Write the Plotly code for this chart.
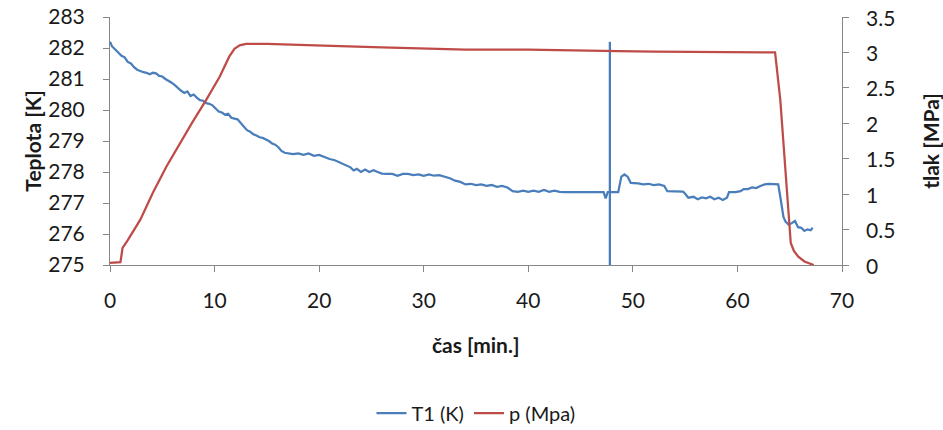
import plotly.graph_objects as go

# --- data -------------------------------------------------------------
t1_time = [0, 0.2, 0.5, 0.8, 1.1, 1.4, 1.7, 2.0, 2.3, 2.6, 2.9, 3.2, 3.5, 3.8, 4.1, 4.4, 4.7,
           5.0, 5.3, 5.6, 5.9, 6.2, 6.5, 6.8, 7.1, 7.4, 7.7, 8.0, 8.3, 8.6, 8.9, 9.2, 9.5,
           9.8, 10.1, 10.4, 10.7, 11.0, 11.3, 11.6, 11.9, 12.2, 12.5, 12.8, 13.1, 13.4, 13.7,
           14.0, 14.3, 14.6, 14.9, 15.2, 15.5, 15.8, 16.1, 16.4, 16.7, 17.0, 17.5, 18.0, 18.5,
           19.0, 19.5, 20.0, 20.5, 21.0, 21.5, 22.0, 22.5, 23.0, 23.3, 23.6, 24.0, 24.4, 24.8,
           25.2, 25.6, 26.0, 26.5, 27.0, 27.5, 28.0, 28.5, 29.0, 29.5, 30.0, 30.5, 31.0, 31.5,
           32.0, 32.5, 33.0, 33.5, 34.0, 34.5, 35.0, 35.5, 36.0, 36.5, 37.0, 37.5, 38.0, 38.5,
           39.0, 39.5, 40.0, 40.5, 41.0, 41.5, 42.0, 42.5, 43.0, 43.5, 47.2, 47.4, 47.6, 48.6,
           48.9, 49.2, 49.5, 49.8, 50.5, 51.0, 51.5, 52.0, 52.5, 53.0, 53.3, 54.0, 54.8, 55.0,
           55.3, 55.8, 56.2, 56.6, 57.0, 57.4, 57.8, 58.2, 58.6, 59.0, 59.2, 59.8, 60.3, 60.6,
           61.0, 61.4, 61.8, 62.2, 62.6, 63.0, 63.5, 63.9, 64.1, 64.4, 64.6, 64.9, 65.2, 65.5,
           65.8, 66.1, 66.4, 66.7, 67.0, 67.2]
t1_values = [282.2, 282.05, 281.95, 281.85, 281.75, 281.7, 281.55, 281.5, 281.38, 281.3, 281.25,
             281.22, 281.2, 281.15, 281.2, 281.18, 281.1, 281.08, 281.0, 280.95, 280.88, 280.8,
             280.7, 280.62, 280.55, 280.6, 280.45, 280.5, 280.4, 280.32, 280.3, 280.22, 280.2,
             280.15, 280.05, 279.95, 279.92, 279.85, 279.88, 279.75, 279.72, 279.7, 279.58,
             279.45, 279.35, 279.3, 279.22, 279.18, 279.12, 279.1, 279.05, 279.0, 278.92,
             278.88, 278.8, 278.68, 278.62, 278.6, 278.58, 278.6, 278.55, 278.6, 278.52,
             278.55, 278.48, 278.42, 278.38, 278.3, 278.22, 278.15, 278.05, 278.1, 278.0,
             278.08, 278.0, 278.06, 278.0, 277.95, 277.94, 277.94, 277.88, 277.94, 277.94,
             277.9, 277.92, 277.88, 277.92, 277.88, 277.9, 277.86, 277.8, 277.72, 277.68,
             277.6, 277.62, 277.58, 277.6, 277.55, 277.58, 277.52, 277.55, 277.5, 277.38,
             277.36, 277.4, 277.36, 277.4, 277.36, 277.42, 277.36, 277.4, 277.36, 277.35,
             277.35, 277.15, 277.35, 277.35, 277.85, 277.92, 277.85, 277.65, 277.63, 277.6,
             277.62, 277.58, 277.6, 277.55, 277.38, 277.37, 277.37, 277.3, 277.17, 277.2,
             277.12, 277.18, 277.15, 277.2, 277.12, 277.17, 277.1, 277.17, 277.35, 277.35,
             277.38, 277.45, 277.45, 277.5, 277.48, 277.55, 277.6, 277.62, 277.62, 277.6,
             277.2, 276.55, 276.4, 276.3, 276.35, 276.42, 276.22, 276.2, 276.1, 276.15,
             276.12, 276.2]

p_time = [0, 1.0, 1.2, 1.7, 2.9, 4.1, 5.4, 6.7, 7.9, 9.2, 10.5, 11.4, 11.9, 12.4, 13, 15, 18,
          22, 26, 30, 34, 40, 46.7, 48.6, 52, 56, 60, 63.6, 64.1, 64.7, 65.1, 65.4, 65.8,
          66.4, 67.0, 67.3]
p_values = [0.03, 0.04, 0.24, 0.35, 0.64, 1.02, 1.39, 1.72, 2.02, 2.33, 2.66, 2.94, 3.05,
            3.1, 3.12, 3.12, 3.11, 3.09, 3.07, 3.05, 3.04, 3.04, 3.03, 3.02, 3.01, 3.01,
            3.0, 3.0, 2.33, 1.16, 0.31, 0.2, 0.12, 0.05, 0.01, 0.0]

marker_time = [47.8, 47.8]
marker_temp = [275.0, 282.2]

names = ["T1 (K)", "p (Mpa)"]
x_ticks = [0, 10, 20, 30, 40, 50, 60, 70]
p_ticks = [0, 0.5, 1, 1.5, 2, 2.5, 3, 3.5]
p_tick_labels = ["0", "0.5", "1", "1.5", "2", "2.5", "3", "3.5"]

BLUE = "#4A7EBB"
RED = "#BE4B48"
AX = "#868686"
TXT = "#1a1a1a"
FONT = "Lato"

fig = go.Figure()
fig.add_trace(go.Scatter(x=t1_time, y=t1_values, name=names[0], mode="lines",
                         line=dict(color=BLUE, width=2.25)))
fig.add_trace(go.Scatter(x=p_time, y=p_values, name=names[1], mode="lines", yaxis="y2",
                         line=dict(color=RED, width=2.25)))
fig.add_trace(go.Scatter(x=marker_time, y=marker_temp, mode="lines", showlegend=False,
                         line=dict(color=BLUE, width=2.25)))

fig.update_layout(
    width=943, height=430,
    margin=dict(l=110, r=101, t=17, b=165, autoexpand=False),
    paper_bgcolor="white", plot_bgcolor="white",
    font=dict(family=FONT, size=21, color=TXT),
    xaxis=dict(range=[0, 70], tickvals=x_ticks, showgrid=False, zeroline=False,
               showline=True, linecolor=AX, linewidth=1, ticks="outside", ticklen=6,
               tickcolor=AX, ticklabelstandoff=11),
    yaxis=dict(range=[275, 283], dtick=1, showgrid=False, zeroline=False,
               showline=True, linecolor=AX, linewidth=1, ticks="outside", ticklen=6,
               tickcolor=AX, ticklabelstandoff=14),
    yaxis2=dict(range=[0, 3.5], tickvals=p_ticks, overlaying="y", side="right",
                showgrid=False, zeroline=False, showline=True, linecolor=AX, linewidth=1,
                ticks="outside", ticklen=6, tickcolor=AX, showticklabels=False),
    legend=dict(orientation="h", x=476 / 943, xanchor="center", xref="container",
                y=1 - 413 / 430, yanchor="middle", yref="container",
                font=dict(size=20), bgcolor="rgba(0,0,0,0)"),
    showlegend=True,
)

# right-hand tick labels, placed on the y2 scale, pushed away from the axis line
for v, lab in zip(p_ticks, p_tick_labels):
    fig.add_annotation(text=lab, xref="paper", yref="y2", x=1, y=v, xanchor="left",
                       yanchor="middle", xshift=22, showarrow=False,
                       font=dict(size=21))

fig.add_annotation(text="<b>Teplota [K]</b>", xref="paper", yref="paper", x=-0.107,
                   y=0.5, xanchor="center", yanchor="middle", textangle=-90,
                   showarrow=False, font=dict(size=21))
fig.add_annotation(text="<b>tlak [MPa]</b>", xref="paper", yref="paper", x=1.12,
                   y=0.5, xanchor="center", yanchor="middle", textangle=-90,
                   showarrow=False, font=dict(size=21))
fig.add_annotation(text="<b>čas [min.]</b>", xref="paper", yref="paper", x=(476 - 110) / 732,
                   y=-0.322, xanchor="center", yanchor="middle",
                   showarrow=False, font=dict(size=21))

fig.write_html("out.html")
